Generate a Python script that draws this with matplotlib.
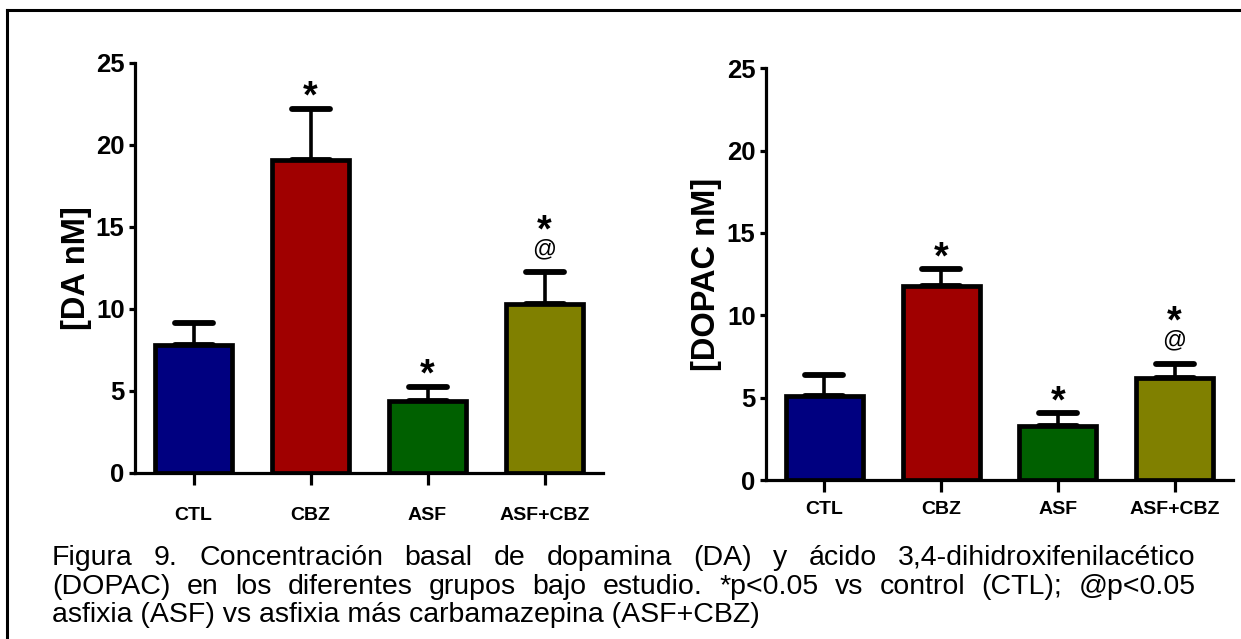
import matplotlib
matplotlib.use("Agg")
import matplotlib.pyplot as plt
from matplotlib.lines import Line2D
from matplotlib.markers import MarkerStyle

# ---------------- data ----------------
groups = ["CTL", "CBZ", "ASF", "ASF+CBZ"]
colors = ["#000080", "#A00000", "#006000", "#808000"]

da_mean = [7.8, 19.1, 4.4, 10.3]
da_sem = [1.37, 3.1, 0.87, 1.92]
da_star = [False, True, True, True]
da_at = [False, False, False, True]

dopac_mean = [5.12, 11.8, 3.3, 6.17]
dopac_sem = [1.26, 0.99, 0.75, 0.87]
dopac_star = [False, True, True, True]
dopac_at = [False, False, False, True]

yticks = [0, 5, 10, 15, 20, 25]
ylabel_da = "[DA nM]"
ylabel_dopac = "[DOPAC nM]"

caption_lines = [
    "Figura 9. Concentración basal de dopamina (DA) y ácido 3,4-dihidroxifenilacético",
    "(DOPAC) en los diferentes grupos bajo estudio. *p<0.05 vs control (CTL); @p<0.05",
    "asfixia (ASF) vs asfixia más carbamazepina (ASF+CBZ)",
]

# ---------------- figure ----------------
W, H = 1241, 639
fig = plt.figure(figsize=(W / 100, H / 100), dpi=100)
fig.patch.set_facecolor("white")

ARIAL = ["Liberation Sans", "DejaVu Sans"]


def px_axes(left, right, top, bottom):
    return fig.add_axes([left / W, 1 - bottom / H, (right - left) / W, (bottom - top) / H])


def draw_panel(ax, means, sems, stars, ats, ylabel, label_x, xpad):
    x = list(range(len(groups)))
    ax.bar(x, means, width=0.66, color=colors, edgecolor="black", linewidth=3.4, zorder=3)
    eb = ax.errorbar(x, means, yerr=[[0] * len(sems), sems], fmt="none", ecolor="black",
                     elinewidth=2.6, capsize=13.5, capthick=4.2, zorder=2)
    for cl in eb[1]:
        cl.set_marker(MarkerStyle("_", capstyle="round"))
    ax.set_xlim(-0.5, 3.5)
    ax.set_ylim(0, 25)
    ax.set_yticks(yticks)
    ax.set_xticks(x)
    ax.set_xticklabels(groups)
    for s in ["top", "right"]:
        ax.spines[s].set_visible(False)
    for s in ["left", "bottom"]:
        ax.spines[s].set_linewidth(2.3)
        ax.spines[s].set_capstyle("projecting")
    ax.tick_params(axis="y", length=4.5, width=2.3, pad=3)
    ax.tick_params(axis="x", length=8.5, width=2.3, pad=xpad)
    for lab in ax.get_yticklabels():
        lab.set_fontfamily(ARIAL)
        lab.set_fontweight("bold")
        lab.set_fontsize(18.5)
    for lab in ax.get_xticklabels():
        lab.set_fontfamily(ARIAL)
        lab.set_fontweight("bold")
        lab.set_fontsize(14)
    ax.set_ylabel(ylabel, family=ARIAL, fontweight="bold", fontsize=23.5,
                  ha="center", va="center")
    ax.yaxis.set_label_coords(label_x, 0.5)
    for i in x:
        top = means[i] + sems[i]
        if ats[i]:
            ax.annotate("@", xy=(i, top), xytext=(0, 12.5), textcoords="offset points",
                        ha="center", va="baseline", family=ARIAL, fontsize=17)
            if stars[i]:
                ax.annotate("*", xy=(i, top), xytext=(0, 22.5), textcoords="offset points",
                            ha="center", va="baseline", family=ARIAL, fontsize=27,
                            fontweight="bold")
        elif stars[i]:
            ax.annotate("*", xy=(i, top), xytext=(0, 0.5), textcoords="offset points",
                        ha="center", va="baseline", family=ARIAL, fontsize=27,
                        fontweight="bold")


ax1 = px_axes(135, 603, 62.7, 473)
draw_panel(ax1, da_mean, da_sem, da_star, da_at, ylabel_da, (77 - 135) / 468, 16)

ax2 = px_axes(766, 1233, 68.3, 480)
draw_panel(ax2, dopac_mean, dopac_sem, dopac_star, dopac_at, ylabel_dopac, (707 - 766) / 467, 6.5)

# ---------------- frame ----------------
fig.add_artist(Line2D([7 / W, 1.0], [1 - 10 / H, 1 - 10 / H], transform=fig.transFigure,
                      color="black", linewidth=2.2, solid_capstyle="projecting"))
fig.add_artist(Line2D([7 / W, 7 / W], [1 - 10 / H, 0.0], transform=fig.transFigure,
                      color="black", linewidth=2.2, solid_capstyle="projecting"))

# ---------------- caption (justified) ----------------
renderer = fig.canvas.get_renderer()
cap_x0, cap_x1 = 52, 1196
baselines = [565, 593.5, 622]
cap_size = 20.5
for li, line in enumerate(caption_lines):
    y = 1 - baselines[li] / H
    if li == len(caption_lines) - 1:
        fig.text(cap_x0 / W, y, line, family=ARIAL, fontsize=cap_size, ha="left", va="baseline")
        continue
    words = line.split(" ")
    texts = [fig.text(0, y, w, family=ARIAL, fontsize=cap_size, ha="left", va="baseline")
             for w in words]
    widths = [t.get_window_extent(renderer).width for t in texts]
    gap = (cap_x1 - cap_x0 - sum(widths)) / (len(words) - 1)
    xpos = cap_x0
    for t, w in zip(texts, widths):
        t.set_x(xpos / W)
        xpos += w + gap

fig.savefig("out.png", dpi=100, facecolor="white")
